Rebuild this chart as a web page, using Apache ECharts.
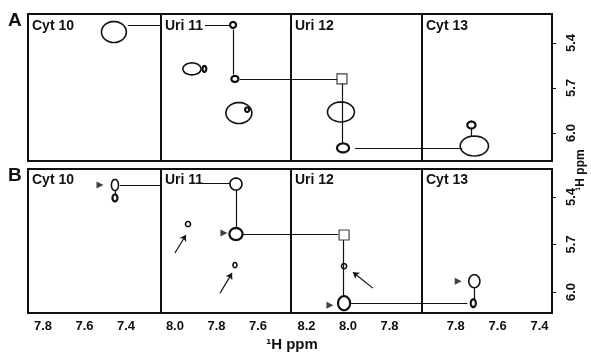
<!DOCTYPE html>
<html>
<head>
<meta charset="utf-8">
<script src="https://cdn.jsdelivr.net/npm/echarts@6/dist/echarts.min.js"></script>
<style>html,body{margin:0;padding:0;background:#fff}#c{width:591px;height:353px}</style>
</head>
<body>
<div id="c"></div>
<script>
// ---------- data ----------
const panelNames = ['Cyt 10', 'Uri 11', 'Uri 12', 'Cyt 13'];
const rowNames = ['A', 'B'];
// x-axis limits (ppm) of each panel [min, max], axis is reversed
const xLimits = [[7.231, 7.872], [7.441, 8.067], [7.643, 8.275], [7.34, 7.961]];
const xTickLabels = [[7.4, 7.6, 7.8], [7.6, 7.8, 8.0], [7.8, 8.0, 8.2], [7.4, 7.6, 7.8]];
const yTickLabels = [5.4, 5.7, 6.0];
const yLimitsA = [5.207, 6.187];
const yLimitsB = [5.223, 6.133];
const axisTitle = '¹H ppm';

// peaks: [panel, xPpm, yPpm, widthPpm, heightPpm]
const peaksA = [
  [0, 7.458, 5.327, 0.12, 0.14],
  [1, 7.918, 5.573, 0.087, 0.08],
  [1, 7.692, 5.867, 0.125, 0.14],
  [2, 8.034, 5.86, 0.13, 0.133],
  [3, 7.711, 6.087, 0.135, 0.133]
];
const strongPeaksA = [
  [1, 7.72, 5.28, 0.029, 0.04],
  [1, 7.711, 5.64, 0.034, 0.04],
  [1, 7.858, 5.573, 0.018, 0.04],
  [1, 7.652, 5.845, 0.02, 0.03],
  [2, 8.024, 6.10, 0.058, 0.06],
  [3, 7.725, 5.947, 0.039, 0.047]
];
const peaksB = [
  [0, 7.453, 5.324, 0.034, 0.07],
  [1, 7.706, 5.318, 0.058, 0.076],
  [1, 7.937, 5.571, 0.024, 0.032],
  [1, 7.711, 5.83, 0.019, 0.032],
  [2, 8.019, 5.837, 0.024, 0.032],
  [3, 7.711, 5.932, 0.053, 0.082]
];
const strongPeaksB = [
  [0, 7.453, 5.406, 0.024, 0.044],
  [1, 7.706, 5.634, 0.063, 0.076],
  [2, 8.019, 6.071, 0.058, 0.089],
  [3, 7.716, 6.071, 0.024, 0.05]
];
// connectivity walk segments: [panel, x1, y1, x2, y2]
const linksA = [
  [0, 7.39, 5.28, 7.231, 5.28],
  [1, 7.855, 5.28, 7.735, 5.28],
  [1, 7.72, 5.31, 7.72, 5.61],
  [1, 7.687, 5.64, 7.441, 5.64],
  [2, 8.275, 5.64, 8.053, 5.64],
  [2, 8.029, 5.673, 8.029, 6.067],
  [2, 7.966, 6.10, 7.643, 6.10],
  [3, 7.961, 6.10, 7.769, 6.10],
  [3, 7.725, 5.967, 7.725, 6.02]
];
const linksB = [
  [0, 7.429, 5.324, 7.231, 5.324],
  [0, 7.453, 5.36, 7.453, 5.385],
  [1, 7.870, 5.312, 7.735, 5.312],
  [1, 7.706, 5.356, 7.706, 5.596],
  [1, 7.672, 5.634, 7.441, 5.634],
  [2, 8.275, 5.634, 8.048, 5.634],
  [2, 8.024, 5.672, 8.024, 6.027],
  [2, 7.986, 6.071, 7.643, 6.071],
  [3, 7.961, 6.071, 7.745, 6.071],
  [3, 7.711, 5.97, 7.711, 6.046]
];
// arrows: [panel, xTail, yTail, xHead, yHead]
const arrowsB = [
  [1, 8.0, 5.754, 7.947, 5.64],
  [1, 7.783, 6.008, 7.725, 5.881],
  [2, 7.880, 5.976, 7.976, 5.875]
];
// pointer triangles: [panel, x, y]
const pointersB = [
  [0, 7.525, 5.324],
  [1, 7.764, 5.628],
  [2, 8.087, 6.084],
  [3, 7.788, 5.932]
];
// open squares: [panel, x, y]
const boxesA = [[2, 8.029, 5.64]];
const boxesB = [[2, 8.019, 5.64]];

// ---------- layout ----------
const colLeft = [28, 161, 291, 422];
const colWidth = [133, 130, 131, 130];
const rowTop = [14, 169];
const rowHeight = [147, 144];
const FONT = 'Liberation Sans';
const INK = '#111';

const chart = echarts.init(document.getElementById('c'), null, {renderer: 'canvas'});

function ellipseRender(lw) {
  return function (params, api) {
    const c = api.coord([api.value(0), api.value(1)]);
    const s = api.size([api.value(2), api.value(3)]);
    const rx = s[0] / 2, ry = s[1] / 2;
    const pts = [];
    for (let k = 0; k < 36; k++) {
      const t = k / 36 * 2 * Math.PI;
      pts.push([c[0] + rx * Math.cos(t), c[1] + ry * Math.sin(t)]);
    }
    return {type: 'polygon', shape: {points: pts}, style: {fill: 'none', stroke: INK, lineWidth: lw}};
  };
}

const grids = [], xAxes = [], yAxes = [], series = [], titles = [];
const rows = [
  {peaks: peaksA, strong: strongPeaksA, links: linksA, arrows: [], pointers: [], boxes: boxesA, ylim: yLimitsA},
  {peaks: peaksB, strong: strongPeaksB, links: linksB, arrows: arrowsB, pointers: pointersB, boxes: boxesB, ylim: yLimitsB}
];

rows.forEach((row, r) => {
  titles.push({
    text: rowNames[r], left: 8, top: rowTop[r] - 3, padding: 0,
    textStyle: {fontFamily: FONT, fontWeight: 'bold', fontSize: 19, color: INK}
  });
  for (let p = 0; p < 4; p++) {
    const gi = r * 4 + p;
    grids.push({
      left: colLeft[p], top: rowTop[r], width: colWidth[p], height: rowHeight[r],
      show: true, borderColor: INK, borderWidth: 2, backgroundColor: 'transparent',
      containLabel: false, outerBoundsMode: 'none'
    });
    xAxes.push({
      type: 'value', gridIndex: gi, inverse: true,
      min: xLimits[p][0], max: xLimits[p][1],
      axisLine: {show: false}, axisTick: {show: false}, splitLine: {show: false},
      axisLabel: {
        show: r === 1, customValues: xTickLabels[p], margin: 7,
        formatter: v => v.toFixed(1),
        fontFamily: FONT, fontWeight: 'bold', fontSize: 13, color: INK
      }
    });
    const isRight = p === 3;
    yAxes.push({
      type: 'value', gridIndex: gi, inverse: true, position: 'right',
      min: row.ylim[0], max: row.ylim[1],
      axisLine: {show: false}, splitLine: {show: false},
      axisTick: {show: isRight, inside: false, length: 4, customValues: yTickLabels, lineStyle: {color: INK, width: 1}},
      axisLabel: {
        show: isRight, customValues: yTickLabels, rotate: 90, margin: 13,
        formatter: v => v.toFixed(1),
        fontFamily: FONT, fontWeight: 'bold', fontSize: 13, color: INK
      }
    });
    titles.push({
      text: panelNames[p], left: colLeft[p] + 4, top: rowTop[r] + (r === 0 ? 5 : 4), padding: 0,
      textStyle: {fontFamily: FONT, fontWeight: 'bold', fontSize: 14, color: INK}
    });
    const sel = arr => arr.filter(d => d[0] === p).map(d => d.slice(1));
    series.push({
      type: 'lines', coordinateSystem: 'cartesian2d', xAxisIndex: gi, yAxisIndex: gi,
      polyline: false, silent: true, z: 2,
      lineStyle: {color: INK, width: 1.2, opacity: 1},
      data: sel(row.links).map(d => ({coords: [[d[0], d[1]], [d[2], d[3]]]}))
    });
    if (row.arrows.length) {
      series.push({
        type: 'lines', coordinateSystem: 'cartesian2d', xAxisIndex: gi, yAxisIndex: gi,
        polyline: false, silent: true, z: 2,
        symbol: ['none', 'arrow'], symbolSize: 6,
        lineStyle: {color: INK, width: 1.2, opacity: 1},
        data: sel(row.arrows).map(d => ({coords: [[d[0], d[1]], [d[2], d[3]]]}))
      });
    }
    series.push({
      type: 'custom', coordinateSystem: 'cartesian2d', xAxisIndex: gi, yAxisIndex: gi, z: 3,
      renderItem: ellipseRender(1.6), data: sel(row.peaks), silent: true
    });
    series.push({
      type: 'custom', coordinateSystem: 'cartesian2d', xAxisIndex: gi, yAxisIndex: gi, z: 3,
      renderItem: ellipseRender(2.2), data: sel(row.strong), silent: true
    });
    series.push({
      type: 'scatter', xAxisIndex: gi, yAxisIndex: gi, z: 4, silent: true,
      symbol: 'triangle', symbolSize: [7, 7], symbolRotate: -90,
      itemStyle: {color: INK},
      data: sel(row.pointers)
    });
    series.push({
      type: 'scatter', xAxisIndex: gi, yAxisIndex: gi, z: 4, silent: true,
      symbol: 'rect', symbolSize: 10,
      itemStyle: {color: '#fff', borderColor: INK, borderWidth: 1.2},
      data: sel(row.boxes)
    });
  }
});

chart.setOption({
  animation: false,
  backgroundColor: '#fff',
  title: titles,
  grid: grids,
  xAxis: xAxes,
  yAxis: yAxes,
  series: series,
  graphic: [
    {type: 'text', x: 292, y: 345, style: {text: axisTitle, align: 'center', verticalAlign: 'middle',
      font: 'bold 15px "Liberation Sans"', fill: INK}},
    {type: 'text', x: 581, y: 170, rotation: Math.PI / 2, style: {text: axisTitle, align: 'center', verticalAlign: 'middle',
      font: 'bold 12px "Liberation Sans"', fill: INK}}
  ]
});
</script>
</body>
</html>
